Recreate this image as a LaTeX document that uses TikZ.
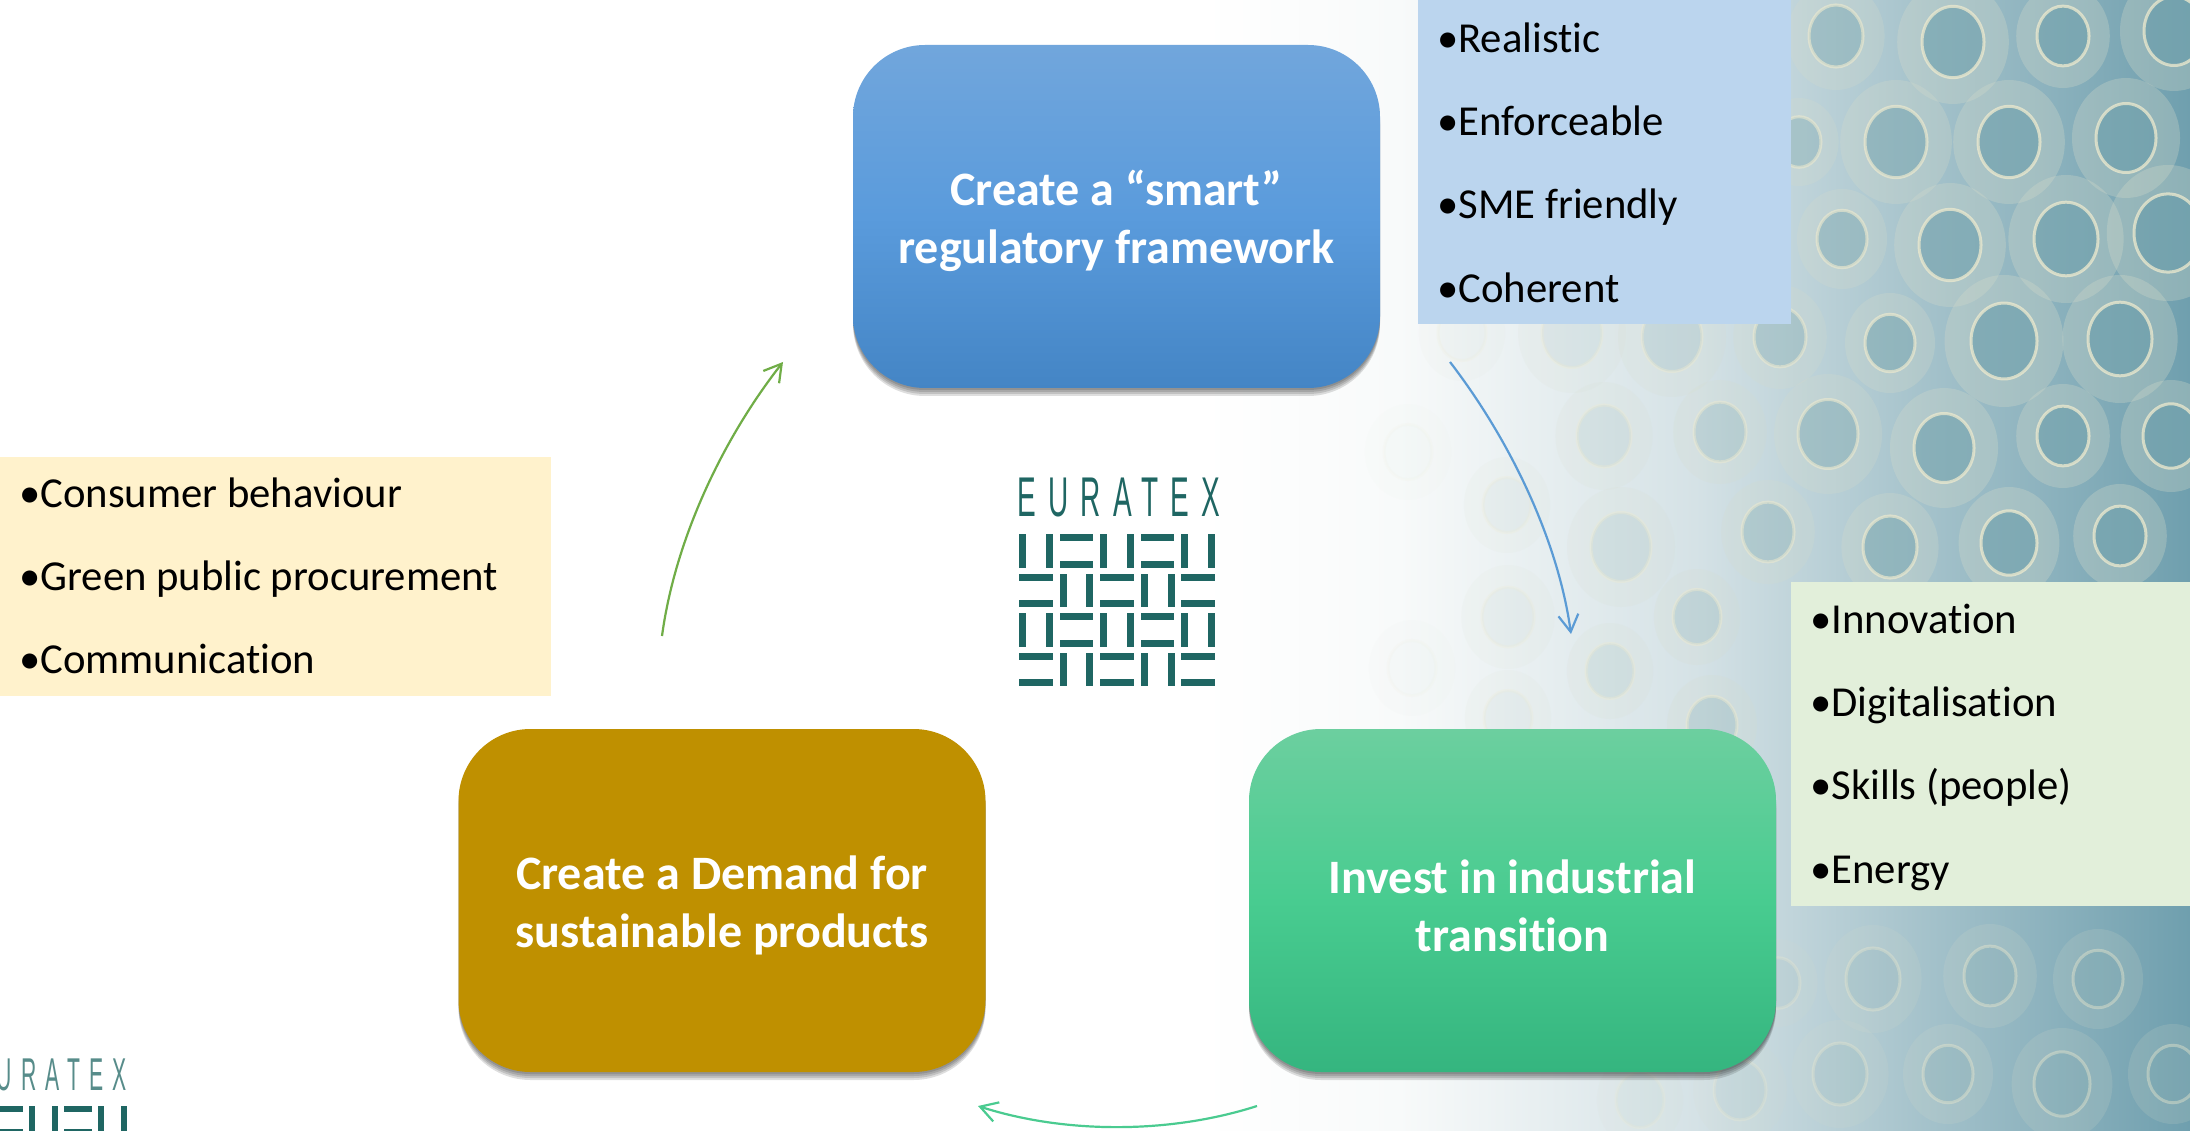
\documentclass[tikz,border=0pt]{standalone}
\usepackage{fontspec}
\setmainfont[Ligatures=NoCommon]{Carlito}
\newfontfamily\logofont[LetterSpace=43]{Liberation Sans}
\usetikzlibrary{arrows.meta}
\definecolor{bgA}{HTML}{F8FAFA}
\definecolor{bgB}{HTML}{D5E2E6}
\definecolor{bgC}{HTML}{A3C1CA}
\definecolor{bgD}{HTML}{6F9FAE}
\definecolor{ringc}{HTML}{EFEBCF}
\definecolor{discc}{HTML}{D6DCCB}
\definecolor{holec}{HTML}{5A94A6}
\definecolor{logoc}{HTML}{1F6663}
\definecolor{blueT}{HTML}{71A6DC}
\definecolor{blueM}{HTML}{5A9BDC}
\definecolor{blueB}{HTML}{4485C5}
\definecolor{greenT}{HTML}{6CCF9F}
\definecolor{greenM}{HTML}{48CC90}
\definecolor{greenB}{HTML}{35B57F}
\definecolor{goldc}{HTML}{BF9000}
\definecolor{listblue}{HTML}{BBD5EE}
\definecolor{listyellow}{HTML}{FFF2CC}
\definecolor{listgreen}{HTML}{E2EFDA}
\definecolor{arrowblue}{HTML}{5B9BD5}
\definecolor{arrowolive}{HTML}{70AD47}
\definecolor{arrowgreen}{HTML}{4ACB90}
\pgfdeclareverticalshading{bluegrad}{100bp}{color(0bp)=(blueB); color(25bp)=(blueB); color(50bp)=(blueM); color(75bp)=(blueT); color(100bp)=(blueT)}
\pgfdeclareverticalshading{greengrad}{100bp}{color(0bp)=(greenB); color(25bp)=(greenB); color(50bp)=(greenM); color(75bp)=(greenT); color(100bp)=(greenT)}
\pgfdeclarehorizontalshading{bgfade}{100bp}{color(0bp)=(white); color(25bp)=(white); color(35bp)=(bgA); color(50bp)=(bgB); color(62bp)=(bgC); color(75bp)=(bgD); color(100bp)=(bgD)}
\tikzset{
  shadowlayer/.style={preaction={draw=none,fill=black,fill opacity=.13,transform canvas={yshift=-#1pt}}},
  stagebox/.style={rounded corners=72pt,minimum width=527pt,minimum height=343pt,
    text=white,font=\fontsize{48}{58}\selectfont\bfseries,align=center,inner sep=0pt,
    shadowlayer=2,shadowlayer=4,shadowlayer=6,shadowlayer=8},
  listbox/.style={anchor=north west,inner sep=0pt,draw=none},
  listitem/.style={anchor=base west,inner sep=0pt,text=black,font=\fontsize{42.7}{50}\selectfont},
  cyclearrow/.style={line width=2.2pt,-{Straight Barb[length=17pt,width=20pt,line width=2.2pt]}},
  logobar/.style={fill=logoc,draw=none}
}
\newcommand{\firstline}{\rule{0pt}{44pt}}
\newcommand{\vpair}[2]{%
  \fill[logobar] (#1,#2) rectangle ++(7,33.5);
  \fill[logobar] (#1+26.7,#2) rectangle ++(7,33.5);}
\newcommand{\hpair}[2]{%
  \fill[logobar] (#1,#2) rectangle ++(33.5,7);
  \fill[logobar] (#1,#2+26.5) rectangle ++(33.5,7);}
\newcommand{\logorow}[3]{%
  #2{0}{#1} #3{40.6}{#1} #2{81.2}{#1} #3{121.8}{#1} #2{162.4}{#1}}
\begin{document}
\begin{tikzpicture}[x=1pt,y=-1pt]
\useasboundingbox (0,0) rectangle (2190,1131);
\clip (0,0) rectangle (2190,1131);
\fill[white] (0,0) rectangle (2190,1131);
% background
\shade[shading=bgfade] (1200,0) rectangle (2190,1131);
\foreach \x/\y/\r in {
 1836/36/27,1953/42/31,2063/36/26,2174/31/30,
 1799/142/22,1896/142/31,2009/142/31,2126/138/30,
 1842/239/25,1950/245/31,2066/239/32,2168/233/34,
 1890/343/25,2004/341/33,2120/339/32,
 1462/333/24,1572/333/30,1672/337/30,1780/337/26,
 1604/436/27,1720/432/26,1828/434/30,1944/448/30,2063/436/26,2171/436/28,
 1408/452/24,1507/505/24,1621/547/30,1768/532/26,1890/547/27,2009/543/28,2120/536/26,
 1508/617/26,1610/671/24,1697/617/24,1412/668/24,1508/718/24,1712/725/25,
 1873/979/27,1990/976/26,2098/979/25,1778/983/22,
 1840/1074/27,1948/1074/25,2062/1084/28,2173/1074/25,
 1620/820/24,1710/850/24,1560/900/22,1640/980/26,1740/1090/26,1640/1100/24}{
  \pgfmathsetmacro\op{min(1,max(0,(\x-1340)/620))*(\y>900?0.55:1)}
  \fill[discc,opacity=.30*\op] (\x,\y) ellipse ({\r*1.8} and {\r*2.0});
  \fill[holec,opacity=.50*\op*\op] (\x,\y) ellipse ({\r} and {\r*1.15});
  \draw[ringc,line width=3pt,opacity=.75*\op] (\x,\y) ellipse ({\r} and {\r*1.15});
}
% list boxes
\node[listbox,fill=listblue,minimum width=373pt,minimum height=324pt] (blueList) at (1418,0) {};
\node[listbox,fill=listyellow,minimum width=551pt,minimum height=239pt] (yellowList) at (0,457) {};
\node[listbox,fill=listgreen,minimum width=399pt,minimum height=324pt] (greenList) at (1791,582) {};
\node[listitem] (b1) at (1437,53) {•Realistic};
\node[listitem] (b2) at (1437,136) {•Enforceable};
\node[listitem] (b3) at (1437,219) {•SME friendly};
\node[listitem] (b4) at (1437,303) {•Coherent};
\node[listitem] (y1) at (19,507) {•Consumer behaviour};
\node[listitem] (y2) at (19,590) {•Green public procurement};
\node[listitem] (y3) at (19,673) {•Communication};
\node[listitem] (g1) at (1810,633) {•Innovation};
\node[listitem] (g2) at (1810,716) {•Digitalisation};
\node[listitem] (g3) at (1810,799) {•Skills (people)};
\node[listitem] (g4) at (1810,883) {•Energy};
% stage boxes
\node[stagebox,shading=bluegrad] (smart) at (1116.5,216.5) {\firstline Create a “smart”\\regulatory framework};
\node[stagebox,shading=greengrad] (invest) at (1512.5,900.5) {\firstline Invest in industrial\\transition};
\node[stagebox,fill=goldc] (demand) at (722,900.5) {\firstline Create a Demand for\\sustainable products};
% connectors
\coordinate (a1s) at (1450,362);
\coordinate (a1e) at (1571,634);
\coordinate (a2s) at (1257,1106);
\coordinate (a2e) at (978,1106);
\coordinate (a3s) at (662,636);
\coordinate (a3e) at (783,362);
\draw[cyclearrow,arrowblue] (a1s) .. controls (1510,440) and (1558,540) .. (a1e);
\draw[cyclearrow,arrowgreen] (a2s) .. controls (1170,1134) and (1065,1134) .. (a2e);
\draw[cyclearrow,arrowolive] (a3s) .. controls (675,540) and (722,440) .. (a3e);
% centre logo
\node[inner sep=0pt,text=logoc,font=\fontsize{56}{56}\selectfont\logofont,xscale=.5,transform shape] (logoA) at (1119,497.5) {EURATEX};
\begin{scope}[shift={(1019,534)}]
\logorow{0}{\vpair}{\hpair}
\logorow{39.5}{\hpair}{\vpair}
\logorow{79}{\vpair}{\hpair}
\logorow{118.5}{\hpair}{\vpair}
\end{scope}
% corner logo, cut by the page edge
\node[inner sep=0pt,text=logoc!75,font=\fontsize{46}{46}\selectfont\logofont,xscale=.46,transform shape] (logoB) at (50,1075) {EURATEX};
\begin{scope}[shift={(-40,1106)},scale=.85]
\logorow{0}{\vpair}{\hpair}
\end{scope}
\end{tikzpicture}
\end{document}
